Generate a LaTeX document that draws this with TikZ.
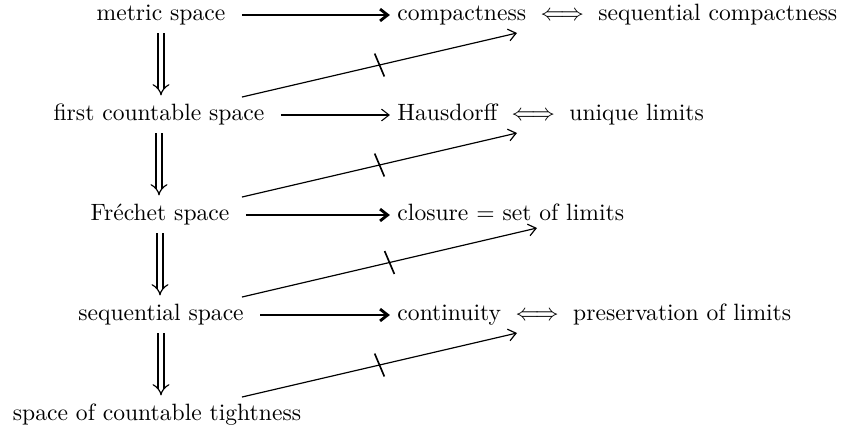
\documentclass[tikz,border=0pt]{standalone}
\usetikzlibrary{arrows.meta,decorations.markings}
\begin{document}
\begin{tikzpicture}[x=0.4237pt,y=-0.4237pt,
  lbl/.style={inner sep=0pt, text height=7pt, text depth=2pt},
  rgt/.style={lbl, anchor=west},
  imp/.style={-{Straight Barb[length=3.2pt,width=5pt]}, line width=0.45pt, shorten <=6.8pt, shorten >=3pt},
  impbold/.style={imp, line width=1.2pt},
  dimp/.style={double, double distance=2pt, line width=0.5pt, -Implies, shorten <=3.1pt, shorten >=3.6pt},
  nimp/.style={-{Straight Barb[length=3.2pt,width=5pt]}, line width=0.5pt, postaction={decorate},
    decoration={markings, mark=at position 0.5 with {\draw[-, line width=0.7pt] (-0.9pt,5.2pt) -- (0.9pt,-5.2pt);}}}
]
\useasboundingbox (0,0) rectangle (857,431);
% left column
\node[lbl] (ms) at (161,15)  {metric space};
\node[lbl] (fc) at (159,115) {first countable space};
\node[lbl] (fr) at (160,215) {Fr\'echet space};
\node[lbl] (sq) at (161,315) {sequential space};
\node[lbl] (ct) at (157,415) {space of countable tightness};
% right column
\node[rgt] (cp) at (397,15)  {compactness $\iff$ sequential compactness};
\node[rgt] (hd) at (397,115) {Hausdorff $\iff$ unique limits};
\node[rgt] (cl) at (397,215) {closure $=$ set of limits};
\node[rgt] (co) at (397,315) {continuity $\iff$ preservation of limits};
% horizontal implications
\draw[impbold] (ms.east) -- (ms.east -| cp.west);
\draw[imp]     (fc.east) -- (fc.east -| hd.west);
\draw[impbold] (fr.east) -- (fr.east -| cl.west);
\draw[impbold] (sq.east) -- (sq.east -| co.west);
% vertical double implications
\draw[dimp] (ms.south) -- (ms.south |- fc.north);
\draw[dimp] (fc.south) -- (fc.south |- fr.north);
\draw[dimp] (fr.south) -- (fr.south |- sq.north);
\draw[dimp] (sq.south) -- (sq.south |- ct.north);
% non-implications
\coordinate (s1) at (242,97);  \coordinate (e1) at (517,33);
\coordinate (s2) at (242,197); \coordinate (e2) at (517,133);
\coordinate (s3) at (242,297); \coordinate (e3) at (537,228);
\coordinate (s4) at (242,397); \coordinate (e4) at (517,333);
\draw[nimp] (s1) -- (e1);
\draw[nimp] (s2) -- (e2);
\draw[nimp] (s3) -- (e3);
\draw[nimp] (s4) -- (e4);
\end{tikzpicture}
\end{document}
